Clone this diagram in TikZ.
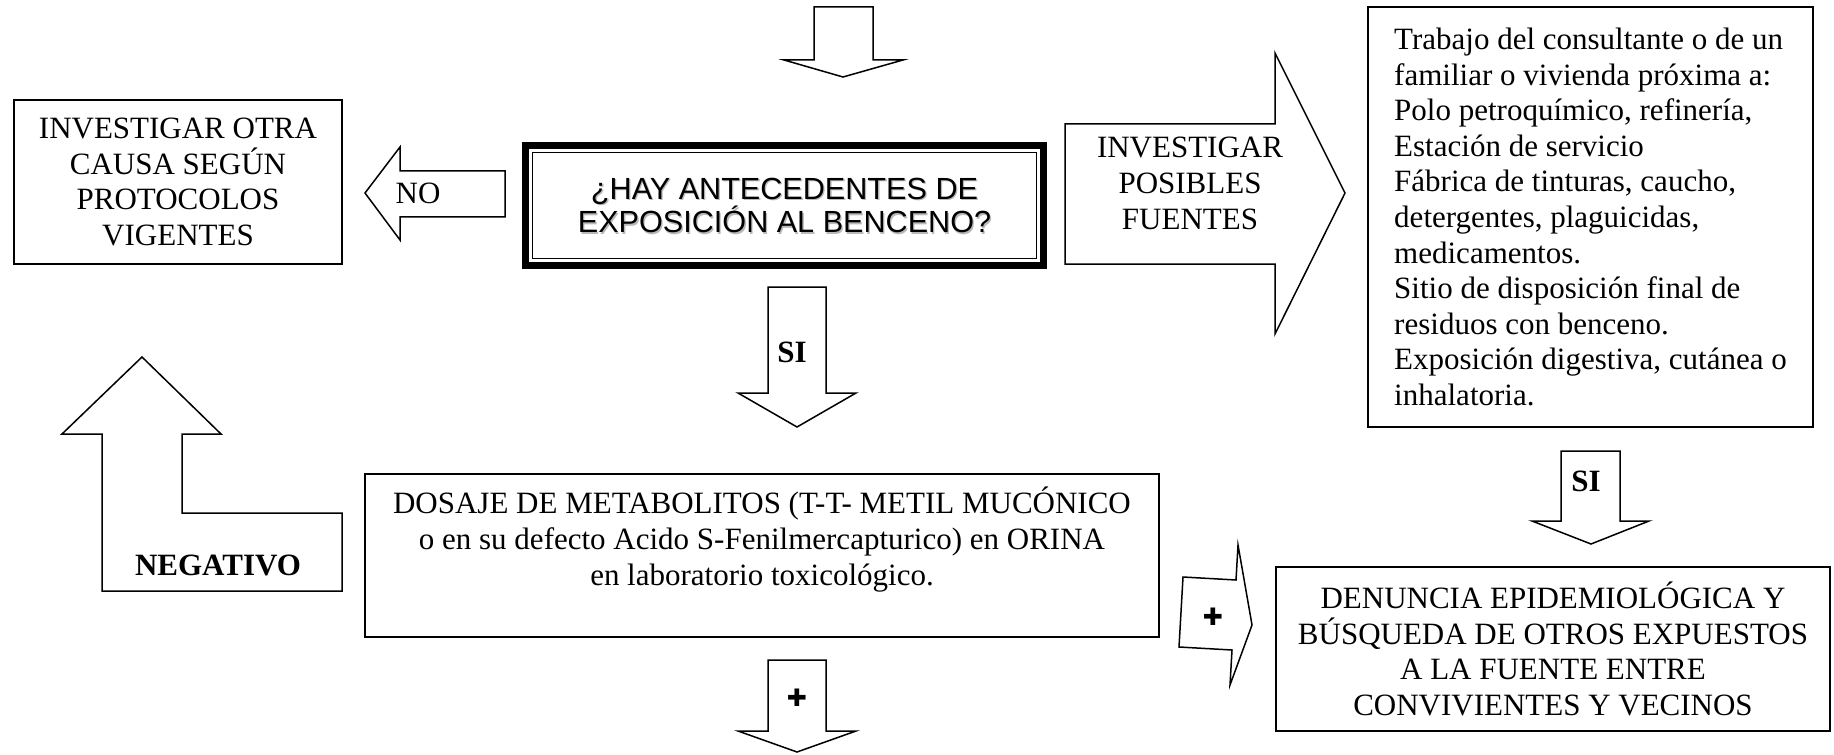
\documentclass[tikz,border=0pt]{standalone}
\usepackage{fontspec}
\setmainfont{Liberation Serif}
\newfontfamily\arialfont{Liberation Sans}
\newfontfamily\dingfont{DejaVu Sans}
\usetikzlibrary{positioning}
\tikzset{
  caja/.style = {draw=black, line width=.9pt, fill=white, align=center,
      inner sep=0pt, outer sep=0pt,
      font=\fontsize{15.5pt}{17.8pt}\selectfont},
  flecha/.style = {draw=black, line width=.75pt, fill=white, line join=miter},
  rotulo/.style = {anchor=base, inner sep=0pt, align=center,
      font=\fontsize{15.5pt}{17.8pt}\selectfont},
  pregtxt/.style = {inner sep=0pt, align=center,
      font=\arialfont\fontsize{15.3pt}{13.5pt}\selectfont},
  mas/.style = {inner sep=0pt, font=\dingfont\fontsize{12pt}{12pt}\selectfont},
}

\begin{document}
\begin{tikzpicture}[x=.5pt, y=-.5pt]
  \useasboundingbox (0,0) rectangle (1834,754);

  % cajas
  \node[caja, minimum width=164pt, minimum height=82pt] (otra) at (178,182)
    {INVESTIGAR OTRA\\CAUSA SEGÚN\\PROTOCOLOS\\VIGENTES};
  \node[caja, line width=3.5pt, minimum width=259pt, minimum height=60pt]
    (pregunta) at (784.5,205.5) {};
  \draw[line width=.6pt] ([shift={(7,7)}]pregunta.north west)
    rectangle ([shift={(-7,-7)}]pregunta.south east);
  \node[pregtxt, text=gray!55] at ([shift={(1.3,1.3)}]pregunta.center)
    {¿HAY ANTECEDENTES DE\\EXPOSICIÓN AL BENCENO?};
  \node[pregtxt] (preguntatxt) at (pregunta.center)
    {¿HAY ANTECEDENTES DE\\EXPOSICIÓN AL BENCENO?};
  \node[caja, align=left, minimum width=222.5pt, minimum height=210pt]
    (fuentes) at (1590.5,217)
    {Trabajo del consultante o de un\\familiar o vivienda próxima a:\\
     Polo petroquímico, refinería,\\Estación de servicio\\
     Fábrica de tinturas, caucho,\\detergentes, plaguicidas,\\
     medicamentos.\\Sitio de disposición final de\\
     residuos con benceno.\\Exposición digestiva, cutánea o\\inhalatoria.};
  \node[caja, minimum width=397pt, minimum height=81.5pt] (dosaje) at (762,555.5) {};
  \node[rotulo] (dosajetxt) at (762,585)
    {DOSAJE DE METABOLITOS (T-T- METIL MUCÓNICO\\
     o en su defecto Acido S-Fenilmercapturico) en ORINA\\
     en laboratorio toxicológico.};
  \node[caja, minimum width=277pt, minimum height=82pt] (denuncia) at (1553,649)
    {DENUNCIA EPIDEMIOLÓGICA Y\\BÚSQUEDA DE OTROS EXPUESTOS\\
     A LA FUENTE ENTRE\\CONVIVIENTES Y VECINOS};

  % flechas
  \draw[flecha] (814,7) -- (873,7) -- (873,60) -- (903,60) -- (843,77)
    -- (784,60) -- (814,60) -- cycle;
  \draw[flecha] (365,193) -- (400,147) -- (400,171) -- (505,171) -- (505,217)
    -- (400,217) -- (400,240) -- cycle;
  \draw[flecha] (1065,124) -- (1275,124) -- (1275,53) -- (1345,193)
    -- (1275,334) -- (1275,264) -- (1065,264) -- cycle;
  \draw[flecha] (768,287) -- (826,287) -- (826,393) -- (856,393) -- (797,427)
    -- (738,393) -- (768,393) -- cycle;
  \draw[flecha] (142,357) -- (221,434) -- (182,434) -- (182,513) -- (342,513)
    -- (342,591) -- (102,591) -- (102,434) -- (62,434) -- cycle;
  \draw[flecha] (768,660) -- (826,660) -- (826,731) -- (856,731) -- (797,752)
    -- (738,731) -- (768,731) -- cycle;
  \draw[flecha] (1561,451) -- (1620,451) -- (1620,521) -- (1649,521)
    -- (1591,544) -- (1532,521) -- (1561,521) -- cycle;
  \draw[flecha] (1183,577) -- (1236,580) -- (1238,545) -- (1252,625)
    -- (1230,685) -- (1232,650) -- (1179,647) -- cycle;

  % rotulos de las flechas
  \node[rotulo] (no) at (418,204) {NO};
  \node[rotulo] (investigar) at (1190,229) {INVESTIGAR\\POSIBLES\\FUENTES};
  \node[rotulo] (si) at (792,362) {\textbf{SI}};
  \node[rotulo] (negativo) at (218,575) {\textbf{NEGATIVO}};
  \node[rotulo] (sider) at (1586,491) {\textbf{SI}};
  \node[mas] (masabajo) at (797,698) {✚};
  \node[mas] (masder) at (1213,617) {✚};
\end{tikzpicture}
\end{document}
